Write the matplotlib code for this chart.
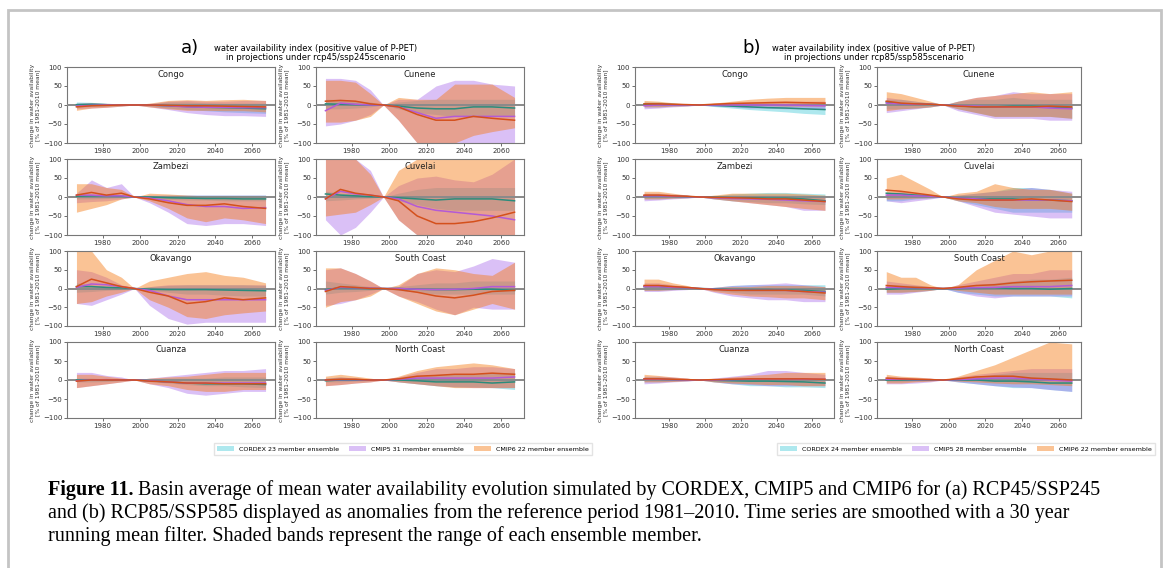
"""Basin water availability anomalies, CORDEX / CMIP5 / CMIP6 ensembles (Figure 11)."""

import matplotlib

matplotlib.use("Agg")
import matplotlib.pyplot as plt
from matplotlib.patches import Patch, Rectangle

YEARS = [1966, 1974, 1982, 1990, 1997, 2005, 2015, 2025, 2035, 2045, 2055, 2067]
BASINS = ["Congo", "Cunene", "Zambezi", "Cuvelai",
          "Okavango", "South Coast", "Cuanza", "North Coast"]
LEGEND_A = ["CORDEX 23 member ensemble", "CMIP5 31 member ensemble", "CMIP6 22 member ensemble"]
LEGEND_B = ["CORDEX 24 member ensemble", "CMIP5 28 member ensemble", "CMIP6 22 member ensemble"]

# each ensemble: (lower bound, upper bound, ensemble mean), % of 1981-2010 mean
# ---- (a) rcp45 / ssp245 -------------------------------------------------------
A_CONGO_CORDEX = ([-6, -4, -3, -2, 0, -3, -8, -12, -15, -18, -20, -22],
                  [8, 7, 4, 2, 0, 3, 8, 8, 6, 5, 5, 5],
                  [1, 2, 1, 0, 0, 0, -2, -4, -6, -7, -8, -10])
A_CONGO_CMIP5 = ([-10, -8, -6, -3, 0, -5, -12, -20, -25, -28, -28, -30],
                 [5, 6, 4, 2, 0, 4, 10, 12, 10, 10, 12, 12],
                 [-3, -1, 0, 0, 0, 0, -2, -5, -6, -6, -7, -7])
A_CONGO_CMIP6 = ([-14, -8, -6, -3, 0, -5, -10, -14, -14, -15, -15, -18],
                 [4, 5, 4, 2, 0, 5, 12, 14, 12, 14, 15, 12],
                 [-5, -2, -1, 0, 0, 0, -1, -2, -2, -3, -4, -5])

A_CUNENE_CORDEX = ([-10, -10, -8, -5, 0, -10, -20, -25, -30, -30, -30, -30],
                   [15, 15, 12, 8, 0, 8, 12, 15, 15, 15, 15, 15],
                   [3, 2, 1, 0, 0, -3, -8, -10, -10, -5, -5, -8])
A_CUNENE_CMIP5 = ([-55, -50, -40, -25, 0, -40, -100, -100, -100, -100, -100, -100],
                  [70, 70, 65, 40, 0, 15, 15, 50, 65, 65, 55, 50],
                  [-15, 5, 2, 0, 0, -5, -20, -35, -30, -30, -30, -30])
A_CUNENE_CMIP6 = ([-45, -45, -40, -30, 0, -40, -100, -100, -100, -80, -70, -60],
                  [65, 65, 60, 30, 0, 20, 15, 15, 55, 55, 55, 20],
                  [10, 12, 10, 3, 0, -5, -25, -40, -40, -30, -35, -40])

A_ZAMBEZI_CORDEX = ([-5, -5, -4, -2, 0, -3, -6, -8, -8, -10, -10, -10],
                    [5, 5, 4, 2, 0, 3, 5, 5, 5, 5, 5, 5],
                    [2, 3, 3, 2, 0, 0, -2, -3, -4, -4, -5, -5])
A_ZAMBEZI_CMIP5 = ([-15, -12, -10, -5, 0, -15, -40, -70, -75, -70, -70, -75],
                   [10, 45, 25, 35, 0, 5, 5, 5, 5, 5, 5, 5],
                   [5, 5, 3, 3, 0, -3, -10, -20, -25, -25, -30, -28])
A_ZAMBEZI_CMIP6 = ([-40, -30, -20, -5, 0, -10, -30, -55, -65, -55, -60, -70],
                   [35, 35, 25, 20, 0, 10, 8, 5, 3, 2, 0, 0],
                   [5, 12, 5, 10, 0, -5, -15, -22, -22, -18, -25, -30])

A_CUVELAI_CORDEX = ([-10, -8, -5, -3, 0, -10, -20, -30, -35, -35, -35, -35],
                    [15, 10, 8, 5, 0, 10, 20, 25, 25, 25, 25, 25],
                    [8, 5, 3, 1, 0, -2, -5, -8, -5, -5, -5, -10])
A_CUVELAI_CMIP5 = ([-60, -100, -80, -40, 0, -60, -100, -100, -100, -100, -100, -100],
                   [100, 100, 100, 70, 0, 30, 50, 55, 45, 40, 60, 100],
                   [-5, 15, 8, 5, 0, -5, -25, -35, -40, -45, -50, -60])
A_CUVELAI_CMIP6 = ([-50, -45, -40, -20, 0, -60, -100, -100, -100, -100, -100, -100],
                   [100, 100, 100, 60, 0, 70, 100, 100, 100, 100, 100, 100],
                   [-5, 20, 10, 5, 0, -10, -50, -70, -70, -65, -55, -40])

A_OKAVANGO_CORDEX = ([-10, -8, -5, -3, 0, -5, -10, -15, -15, -18, -20, -20],
                     [15, 10, 5, 3, 0, 5, 8, 10, 10, 10, 10, 8],
                     [5, 5, 3, 2, 0, -2, -3, -3, -3, -4, -5, -6])
A_OKAVANGO_CMIP5 = ([-40, -45, -30, -15, 0, -45, -80, -95, -90, -90, -90, -90],
                    [50, 45, 30, 10, 0, 5, 10, 10, 10, 10, 10, 10],
                    [3, 12, 10, 5, 0, -5, -20, -30, -30, -30, -30, -30])
A_OKAVANGO_CMIP6 = ([-40, -35, -20, -10, 0, -30, -50, -75, -80, -70, -65, -60],
                    [100, 100, 50, 30, 0, 20, 30, 40, 45, 35, 30, 15],
                    [5, 25, 15, 5, 0, -10, -20, -40, -35, -25, -30, -25])

A_SOUTH_CORDEX = ([-15, -10, -8, -5, 0, -5, -10, -15, -15, -15, -15, -15],
                  [20, 15, 10, 5, 0, 5, 10, 15, 15, 20, 20, 20],
                  [-3, 2, 1, 0, 0, 0, -2, -3, -3, -2, -2, -5])
A_SOUTH_CMIP5 = ([-45, -40, -30, -15, 0, -20, -35, -55, -70, -50, -55, -55],
                 [50, 55, 40, 20, 0, 5, 40, 50, 45, 60, 80, 70],
                 [-5, 3, 2, 1, 0, 0, -2, -3, -2, 0, 5, 5])
A_SOUTH_CMIP6 = ([-50, -35, -30, -20, 0, -20, -40, -60, -70, -55, -40, -55],
                 [55, 55, 40, 20, 0, 10, 40, 55, 50, 40, 35, 70],
                 [-8, 5, 3, 0, 0, -3, -10, -20, -25, -18, -8, -5])

A_CUANZA_CORDEX = ([-5, -5, -4, -2, 0, -4, -8, -12, -15, -15, -18, -20],
                   [5, 5, 3, 2, 0, 3, 5, 5, 5, 8, 8, 8],
                   [0, 0, 0, 0, 0, -2, -5, -8, -10, -10, -10, -12])
A_CUANZA_CMIP5 = ([-20, -15, -10, -5, 0, -10, -20, -35, -40, -35, -30, -30],
                  [20, 20, 12, 8, 0, 5, 10, 15, 20, 25, 25, 30],
                  [-2, 0, 1, 0, 0, -2, -5, -8, -8, -8, -8, -8])
A_CUANZA_CMIP6 = ([-20, -15, -10, -5, 0, -10, -15, -25, -30, -30, -25, -25],
                  [15, 15, 10, 5, 0, 5, 8, 10, 15, 20, 20, 20],
                  [-3, 0, 0, 0, 0, -3, -5, -8, -8, -10, -10, -10])

A_NORTH_CORDEX = ([-5, -5, -3, -2, 0, -5, -10, -15, -18, -18, -20, -25],
                  [5, 8, 5, 3, 0, 5, 10, 15, 15, 15, 20, 20],
                  [-2, 0, 0, 0, 0, 0, -2, -5, -5, -5, -8, -5])
A_NORTH_CMIP5 = ([-15, -12, -8, -5, 0, -5, -10, -15, -18, -20, -20, -20],
                 [5, 8, 5, 3, 0, 8, 20, 30, 30, 35, 35, 30],
                 [0, 1, 1, 0, 0, 2, 5, 5, 5, 5, 5, 8])
A_NORTH_CMIP6 = ([-15, -12, -8, -5, 0, -5, -10, -15, -20, -20, -20, -20],
                 [10, 15, 10, 5, 0, 10, 25, 35, 40, 45, 40, 30],
                 [0, 2, 2, 0, 0, 3, 10, 12, 15, 15, 18, 15])

# ---- (b) rcp85 / ssp585 -------------------------------------------------------
B_CONGO_CORDEX = ([-5, -5, -3, -2, 0, -4, -8, -12, -15, -18, -22, -25],
                  [8, 8, 5, 3, 0, 2, 3, 3, 3, 3, 3, 3],
                  [2, 2, 1, 0, 0, -1, -3, -5, -7, -8, -10, -12])
B_CONGO_CMIP5 = ([-10, -8, -5, -3, 0, -3, -5, -8, -8, -10, -10, -12],
                 [5, 5, 3, 2, 0, 3, 5, 8, 10, 10, 10, 10],
                 [-2, 0, 0, 0, 0, 0, 0, 0, 0, 0, -1, -2])
B_CONGO_CMIP6 = ([-5, -5, -3, -2, 0, 0, 0, -2, -2, -3, -3, -3],
                 [12, 10, 6, 3, 0, 5, 10, 15, 18, 20, 20, 20],
                 [3, 3, 2, 1, 0, 2, 4, 5, 6, 7, 6, 5])

B_CUNENE_CORDEX = ([-10, -10, -8, -5, 0, -10, -20, -30, -30, -30, -30, -35],
                   [15, 15, 10, 5, 0, 10, 15, 15, 20, 15, 15, 15],
                   [8, 3, 3, 2, 0, -2, -5, -5, -3, -3, -5, -8])
B_CUNENE_CMIP5 = ([-20, -15, -10, -5, 0, -15, -25, -35, -35, -35, -40, -40],
                  [20, 15, 10, 5, 0, 10, 20, 25, 35, 30, 30, 30],
                  [5, 3, 2, 2, 0, -2, -3, -5, -5, -5, -8, -10])
B_CUNENE_CMIP6 = ([-15, -10, -8, -5, 0, -10, -20, -30, -30, -30, -30, -35],
                  [35, 30, 20, 10, 0, 10, 20, 25, 30, 35, 30, 35],
                  [10, 5, 3, 2, 0, -3, -5, -5, -5, -5, -3, -5])

B_ZAMBEZI_CORDEX = ([-5, -5, -3, -2, 0, -5, -10, -12, -15, -15, -18, -20],
                    [8, 8, 5, 3, 0, 3, 8, 10, 12, 12, 10, 8],
                    [3, 3, 2, 1, 0, -1, -2, -2, -3, -3, -5, -10])
B_ZAMBEZI_CMIP5 = ([-10, -8, -5, -3, 0, -5, -10, -15, -20, -25, -35, -35],
                   [10, 10, 8, 5, 0, 3, 5, 5, 5, 5, 5, 3],
                   [3, 3, 2, 1, 0, -2, -4, -5, -6, -8, -10, -12])
B_ZAMBEZI_CMIP6 = ([-5, -5, -3, -2, 0, -5, -10, -15, -20, -25, -30, -35],
                   [15, 15, 10, 5, 0, 5, 10, 10, 10, 10, 8, 5],
                   [5, 5, 3, 2, 0, -1, -2, -3, -5, -5, -8, -12])

B_CUVELAI_CORDEX = ([-10, -10, -5, -3, 0, -10, -20, -30, -40, -40, -40, -40],
                    [10, 10, 8, 5, 0, 5, 10, 15, 25, 25, 20, 10],
                    [10, 8, 5, 3, 0, -3, -5, -5, -5, -8, -8, -10])
B_CUVELAI_CMIP5 = ([-10, -15, -10, -5, 0, -10, -25, -40, -45, -50, -55, -55],
                   [10, 15, 10, 5, 0, 5, 10, 15, 20, 25, 20, 15],
                   [5, 5, 3, 2, 0, -3, -5, -8, -8, -8, -8, -10])
B_CUVELAI_CMIP6 = ([-5, -5, -3, -2, 0, -10, -15, -25, -30, -30, -30, -35],
                   [50, 60, 40, 20, 0, 10, 15, 35, 25, 20, 20, 10],
                   [18, 15, 10, 5, 0, -5, -8, -8, -8, -5, -8, -12])

B_OKAVANGO_CORDEX = ([-5, -5, -3, -2, 0, -5, -10, -15, -15, -15, -15, -20],
                     [10, 10, 8, 5, 0, 3, 8, 10, 10, 10, 10, 10],
                     [5, 5, 3, 2, 0, -1, -3, -3, -3, -4, -5, -8])
B_OKAVANGO_CMIP5 = ([-8, -8, -5, -3, 0, -10, -20, -25, -30, -30, -35, -35],
                    [15, 15, 10, 5, 0, 3, 8, 10, 12, 15, 10, 5],
                    [5, 5, 3, 2, 0, -2, -4, -5, -5, -5, -8, -10])
B_OKAVANGO_CMIP6 = ([-5, -5, -3, -2, 0, -8, -15, -20, -22, -25, -25, -30],
                    [25, 25, 15, 8, 0, 3, 5, 5, 8, 8, 8, 5],
                    [8, 8, 5, 3, 0, -3, -5, -5, -5, -5, -8, -12])

B_SOUTH_CORDEX = ([-10, -10, -8, -5, 0, -10, -15, -20, -20, -20, -20, -25],
                  [10, 10, 8, 5, 0, 5, 10, 15, 20, 25, 25, 30],
                  [-2, 0, 0, 0, 0, 0, 1, 2, 0, 0, -2, 0])
B_SOUTH_CMIP5 = ([-15, -15, -10, -5, 0, -10, -20, -25, -20, -20, -20, -20],
                 [20, 15, 10, 5, 0, 10, 20, 30, 40, 40, 50, 50],
                 [3, 2, 2, 1, 0, 1, 2, 3, 5, 5, 5, 8])
B_SOUTH_CMIP6 = ([-10, -10, -8, -5, 0, -5, -10, -15, -15, -15, -15, -15],
                 [45, 30, 30, 10, 0, 10, 50, 75, 100, 90, 100, 100],
                 [8, 5, 3, 2, 0, 3, 8, 10, 15, 18, 20, 22])

B_CUANZA_CORDEX = ([-5, -5, -3, -2, 0, -5, -10, -15, -15, -18, -18, -20],
                   [8, 8, 5, 3, 0, 3, 5, 5, 5, 5, 5, 5],
                   [2, 2, 1, 0, 0, -1, -2, -3, -3, -4, -5, -8])
B_CUANZA_CMIP5 = ([-10, -8, -5, -3, 0, -5, -10, -12, -15, -15, -15, -15],
                  [10, 10, 8, 5, 0, 5, 10, 15, 25, 25, 20, 15],
                  [2, 2, 1, 0, 0, 0, 1, 2, 3, 3, 2, 2])
B_CUANZA_CMIP6 = ([-5, -5, -4, -2, 0, -5, -8, -10, -12, -12, -15, -15],
                  [15, 12, 8, 5, 0, 3, 8, 12, 15, 20, 20, 20],
                  [3, 3, 2, 1, 0, 1, 2, 3, 3, 3, 3, 2])

B_NORTH_CORDEX = ([-5, -5, -3, -2, 0, -5, -10, -15, -20, -20, -25, -30],
                  [5, 5, 3, 2, 0, 5, 10, 15, 20, 20, 20, 20],
                  [0, 0, 0, 0, 0, 0, 0, -3, -3, -5, -8, -8])
B_NORTH_CMIP5 = ([-10, -10, -8, -5, 0, -5, -10, -15, -18, -20, -25, -30],
                 [10, 8, 5, 3, 0, 8, 15, 20, 25, 30, 30, 30],
                 [2, 2, 1, 1, 0, 1, 3, 5, 5, 3, 0, -3])
B_NORTH_CMIP6 = ([-8, -8, -5, -3, 0, -3, -5, -8, -10, -10, -12, -15],
                 [15, 10, 8, 5, 0, 10, 25, 40, 60, 80, 100, 95],
                 [5, 3, 2, 1, 0, 3, 8, 10, 10, 5, 3, 0])

PANELS_A = [(A_CONGO_CORDEX, A_CONGO_CMIP5, A_CONGO_CMIP6),
            (A_CUNENE_CORDEX, A_CUNENE_CMIP5, A_CUNENE_CMIP6),
            (A_ZAMBEZI_CORDEX, A_ZAMBEZI_CMIP5, A_ZAMBEZI_CMIP6),
            (A_CUVELAI_CORDEX, A_CUVELAI_CMIP5, A_CUVELAI_CMIP6),
            (A_OKAVANGO_CORDEX, A_OKAVANGO_CMIP5, A_OKAVANGO_CMIP6),
            (A_SOUTH_CORDEX, A_SOUTH_CMIP5, A_SOUTH_CMIP6),
            (A_CUANZA_CORDEX, A_CUANZA_CMIP5, A_CUANZA_CMIP6),
            (A_NORTH_CORDEX, A_NORTH_CMIP5, A_NORTH_CMIP6)]
PANELS_B = [(B_CONGO_CORDEX, B_CONGO_CMIP5, B_CONGO_CMIP6),
            (B_CUNENE_CORDEX, B_CUNENE_CMIP5, B_CUNENE_CMIP6),
            (B_ZAMBEZI_CORDEX, B_ZAMBEZI_CMIP5, B_ZAMBEZI_CMIP6),
            (B_CUVELAI_CORDEX, B_CUVELAI_CMIP5, B_CUVELAI_CMIP6),
            (B_OKAVANGO_CORDEX, B_OKAVANGO_CMIP5, B_OKAVANGO_CMIP6),
            (B_SOUTH_CORDEX, B_SOUTH_CMIP5, B_SOUTH_CMIP6),
            (B_CUANZA_CORDEX, B_CUANZA_CMIP5, B_CUANZA_CMIP6),
            (B_NORTH_CORDEX, B_NORTH_CMIP5, B_NORTH_CMIP6)]

FILL_COLORS = ["#17becf", "#a05ae8", "#f57a14"]
FILL_ALPHA = [0.35, 0.38, 0.45]
LINE_COLORS = ["#2a8c7c", "#b35ad6", "#d4501c"]

W, H = 1167, 568


def px_box(x0, y0, x1, y1):
    """Pixel box (top-left origin) -> figure fraction rect."""
    return [x0 / W, 1 - y1 / H, (x1 - x0) / W, (y1 - y0) / H]


def draw_panel(ax, basin, ensembles):
    for (lo, hi, mid), c, a in zip(ensembles, FILL_COLORS, FILL_ALPHA):
        ax.fill_between(YEARS, lo, hi, color=c, alpha=a, linewidth=0)
    ax.axhline(0, color="#8a8a8a", linewidth=1.4, zorder=3)
    for (lo, hi, mid), c in zip(ensembles, LINE_COLORS):
        ax.plot(YEARS, mid, color=c, linewidth=1.1, zorder=4)
    ax.set_ylim(-100, 100)
    ax.set_yticks([-100, -50, 0, 50, 100])
    ax.set_xticks([1980, 2000, 2020, 2040, 2060])
    ax.tick_params(labelsize=5, length=2, width=0.5, pad=1.5, colors="#333333")
    for s in ax.spines.values():
        s.set_color("#777777")
        s.set_linewidth(0.8)
    ax.text(0.5, 0.96, basin, transform=ax.transAxes, ha="center", va="top",
            fontsize=6, color="#222222")
    ax.set_ylabel("change in water availability\n[% of 1981-2010 mean]",
                  fontsize=4.3, labelpad=2, color="#333333", linespacing=1.0)


fig = plt.figure(figsize=(W / 100, H / 100), dpi=100)

# page frame
fig.patches.append(Rectangle((8 / W, -0.05), (1161 - 8) / W, 1.05 - 10 / H,
                             transform=fig.transFigure, fill=False,
                             edgecolor="#c4c4c4", linewidth=2))

ROWS = [(67, 143), (159, 235), (251, 326), (342, 418)]
COLS_A = [(67, 275), (316, 524)]
COLS_B = [(635, 834), (877, 1081)]

for cols, panels in [(COLS_A, PANELS_A), (COLS_B, PANELS_B)]:
    for i, (basin, ens) in enumerate(zip(BASINS, panels)):
        r, c = divmod(i, 2)
        x0, x1 = cols[c]
        y0, y1 = ROWS[r]
        ax = fig.add_axes(px_box(x0, y0, x1, y1))
        draw_panel(ax, basin, ens)

# panel headings
for lab, lx, tx, scen in [("a)", 190, 316, "rcp45/ssp245"), ("b)", 752, 874, "rcp85/ssp585")]:
    fig.text(lx / W, 1 - 48 / H, lab, fontsize=13, ha="center", va="center")
    fig.text(tx / W, 1 - 53 / H,
             "water availability index (positive value of P-PET)\n"
             f"in projections under {scen}scenario",
             fontsize=6.0, ha="center", va="center", linespacing=1.0)

# legends
for labels, cx in [(LEGEND_A, 403), (LEGEND_B, 966)]:
    handles = [Patch(facecolor=c, alpha=a, edgecolor="none")
               for c, a in zip(FILL_COLORS, FILL_ALPHA)]
    fig.legend(handles, labels, loc="center", bbox_to_anchor=(cx / W, 1 - 449 / H),
               ncol=3, fontsize=4.6, frameon=True, handlelength=2.6, handleheight=0.9,
               columnspacing=1.6, borderpad=0.5, edgecolor="#dddddd", fancybox=False)

# caption
CAPTION = ["Basin average of mean water availability evolution simulated by CORDEX, "
           "CMIP5 and CMIP6 for (a) RCP45/SSP245",
           "and (b) RCP85/SSP585 displayed as anomalies from the reference period "
           "1981\u20132010. Time series are smoothed with a 30 year",
           "running mean filter. Shaded bands represent the range of each ensemble member."]
cap_font = dict(family="Liberation Serif", fontsize=14.5)
fig.canvas.draw()
renderer = fig.canvas.get_renderer()
head = fig.text(48 / W, 1 - 490 / H, "Figure 11.", fontweight="bold", va="center", **cap_font)
wpx = head.get_window_extent(renderer).width
fig.text((48 + wpx + 4) / W, 1 - 490 / H, CAPTION[0], va="center", **cap_font)
fig.text(48 / W, 1 - 513 / H, CAPTION[1], va="center", **cap_font)
fig.text(48 / W, 1 - 536 / H, CAPTION[2], va="center", **cap_font)

fig.savefig("out.png", dpi=100)
